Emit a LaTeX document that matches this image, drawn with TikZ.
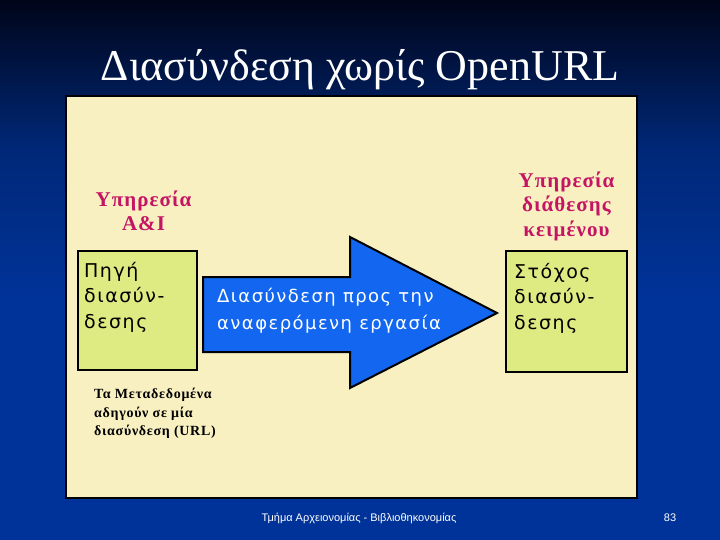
\documentclass[tikz,border=0pt]{standalone}
\usepackage{fontspec}
\setmainfont{Liberation Serif}
\newfontfamily\boxfont[LetterSpace=8]{DejaVu Sans}
\newfontfamily\servicefont[LetterSpace=5]{Liberation Serif}
\newfontfamily\footfont{Liberation Sans}
\usepackage{xcolor}
\usepackage{tikz}
\usetikzlibrary{positioning, calc}
\definecolor{slidetop}{RGB}{0,5,25}
\definecolor{slidemid}{RGB}{0,40,120}
\definecolor{slidebot}{RGB}{0,51,153}
\definecolor{panelbg}{RGB}{249,240,194}
\definecolor{boxbg}{RGB}{222,234,130}
\definecolor{linkblue}{RGB}{18,102,240}
\definecolor{servicered}{RGB}{196,20,100}

\begin{document}
\begin{tikzpicture}[x=1pt, y=-1pt,
        box/.style={draw=black, line width=2pt, fill=boxbg, minimum width=119pt, minimum height=119pt, inner sep=0pt},
        boxtext/.style={font=\boxfont\fontsize{19}{25.5}\selectfont, align=left, anchor=north west, inner sep=0pt},
        service/.style={font=\servicefont\bfseries\fontsize{21}{24.5}\selectfont, text=servicered, align=center, inner sep=0pt},
        note/.style={font=\servicefont\bfseries\fontsize{14}{18.5}\selectfont, align=left, anchor=north west, inner sep=0pt}
    ]
    \useasboundingbox (0,0) rectangle (720,540);

    % Slide background
    \shade[top color=slidetop, bottom color=slidebot, middle color=slidemid] (0,0) rectangle (720,300);
    \fill[slidebot] (0,299) rectangle (720,540);

    % Title
    \node[text=white, font=\fontsize{44}{48}\selectfont, inner sep=0pt] (title) at (360,70) {Διασύνδεση χωρίς OpenURL};

    % Panel
    \node[draw=black, line width=2pt, fill=panelbg, minimum width=571pt, minimum height=402pt, inner sep=0pt] (panel) at (351,297) {};

    % Source and target
    \node[box] (source) at (137.5,310.5) {};
    \node[box, minimum width=121pt, minimum height=121pt] (target) at (566.5,311.5) {};
    \node[boxtext] (sourcetext) at ($(source.north west)+(7,12)$) {Πηγή\\διασύν-\\δεσης};
    \node[boxtext] (targettext) at ($(target.north west)+(9,13)$) {Στόχος\\διασύν-\\δεσης};

    % Services
    \node[service] (aiservice) [above=19pt of source, xshift=6pt] {Υπηρεσία\\Α\&Ι};
    \node[service] (textservice) [above=9pt of target] {Υπηρεσία\\διάθεσης\\κειμένου};

    % Link arrow
    \draw[line width=2pt, fill=linkblue, line join=miter]
        (203,277) -- (350,277) -- (350,237) -- (497,313) -- (350,388) -- (350,352) -- (203,352) -- cycle;
    \node[text=white, font=\boxfont\fontsize{18}{27}\selectfont, align=left, inner sep=0pt, anchor=west] (linktext) at (217,311) {Διασύνδεση προς την\\αναφερόμενη εργασία};

    % Metadata note
    \node[note] (metanote) at ($(source.south west)+(17,17)$) {Τα Μεταδεδομένα\\αδηγούν σε μία\\διασύνδεση (URL)};

    % Footer
    \node[text=white, font=\footfont\fontsize{11}{13}\selectfont, inner sep=0pt] (footer) at (359,518) {Τμήμα Αρχειονομίας - Βιβλιοθηκονομίας};
    \node[text=white, font=\footfont\fontsize{11}{13}\selectfont, inner sep=0pt] (pageno) at (670,518) {83};
\end{tikzpicture}
\end{document}
